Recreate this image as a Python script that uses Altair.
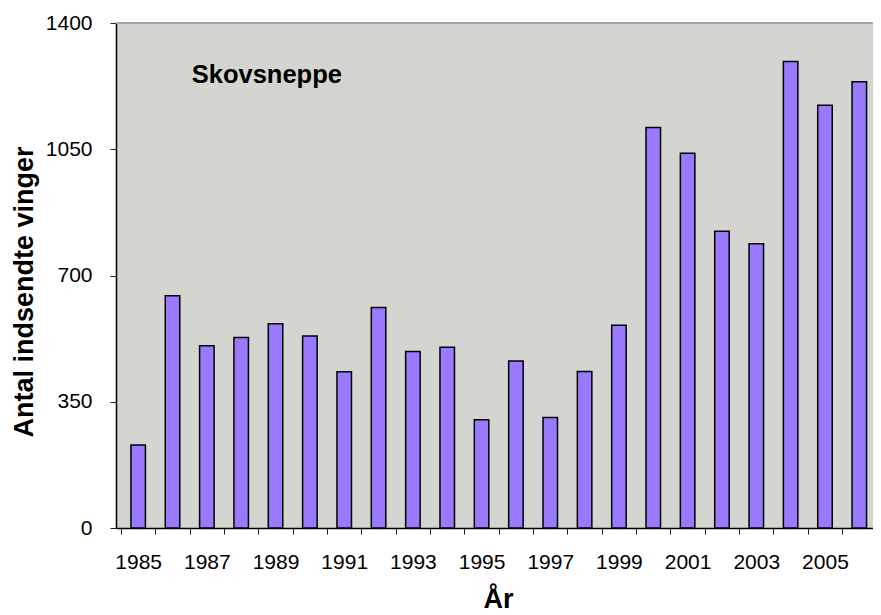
import altair as alt
import pandas as pd

# ---- data ----
years = list(range(1985, 2007))
wings = [230, 644, 505, 528, 566, 532, 433, 611, 489, 501, 300,
         463, 306, 434, 562, 1110, 1039, 823, 788, 1293, 1172, 1237]
species = ["Skovsneppe"]
y_ticks = [0, 350, 700, 1050, 1400]
x_tick_marks = [y - 0.5 for y in years]          # tick marks between the bars
x_label_years = [y for y in years if y % 2 == 1]  # labelled years
y_title = "Antal indsendte vinger"
x_title = "År"

df = pd.DataFrame({"year": years, "wings": wings})
df_ticks = pd.DataFrame({"boundary": x_tick_marks})
df_label = pd.DataFrame({"species": species})

W, H = 757, 505
STEP = 34.8
FONT = "Liberation Sans"

x_scale = alt.Scale(domain=[1984.5, 1984.5 + W / STEP], nice=False, zero=False)
y_scale = alt.Scale(domain=[0, 1400], nice=False, zero=True)

x_axis = alt.Axis(
    values=x_label_years,
    format="d",
    labelOverlap=False,
    labelFlush=False,
    labelFont=FONT,
    labelFontSize=21,
    labelColor="black",
    labelPadding=23,
    ticks=False,
    domainColor="black",
    domainWidth=1.5,
    grid=False,
    orient="bottom",
    title=x_title,
    titleFont=FONT,
    titleFontSize=27,
    titleFontWeight="bold",
    titleColor="black",
    titleX=382,
    titleY=79,
    titleAlign="center",
    titleBaseline="alphabetic",
)

x_tick_axis = alt.Axis(
    values=x_tick_marks,
    labels=False,
    domain=False,
    grid=False,
    orient="bottom",
    tickSize=6,
    tickColor="#222222",
    tickWidth=1,
    title="",
)

y_axis = alt.Axis(
    values=y_ticks,
    format="d",
    labelFont=FONT,
    labelFontSize=21,
    labelColor="black",
    labelPadding=18,
    tickSize=6,
    tickColor="#222222",
    tickWidth=1,
    domainColor="black",
    domainWidth=1.5,
    grid=False,
    title=y_title,
    titleFont=FONT,
    titleFontSize=27,
    titleFontWeight="bold",
    titleColor="black",
    titleAngle=270,
    titleX=-84,
    titleY=268.5,
    titleAlign="center",
    titleBaseline="alphabetic",
)

bars = alt.Chart(df).mark_bar(
    orient="vertical", size=14.5, color="#997aff", stroke="black", strokeWidth=1.5
).encode(
    x=alt.X("year:Q", scale=x_scale, axis=x_axis),
    y=alt.Y("wings:Q", scale=y_scale, axis=y_axis),
)

ticks_layer = alt.Chart(df_ticks).mark_point(opacity=0).encode(
    x=alt.X("boundary:Q", scale=x_scale, axis=x_tick_axis),
    y=alt.value(H),
)

top_rule = alt.Chart(df_label).mark_rule(color="#a6a6a6", strokeWidth=2).encode(
    x=alt.value(0), x2=alt.value(W), y=alt.value(0)
)

label = alt.Chart(df_label).mark_text(
    align="left", baseline="alphabetic", font=FONT, fontSize=25.5,
    fontWeight="bold", color="black"
).encode(
    x=alt.value(75.7), y=alt.value(60), text="species:N"
)

chart = alt.layer(bars, ticks_layer, top_rule, label).resolve_axis(
    x="independent"
).properties(
    width=W, height=H,
    padding={"left": 108, "top": 15, "right": 0, "bottom": 87},
    autosize=alt.AutoSizeParams(type="none"),
    background="white",
).configure_view(fill="#d4d5d0", stroke="transparent")

chart.save("out.html", embed_options={"renderer": "svg", "actions": False})
